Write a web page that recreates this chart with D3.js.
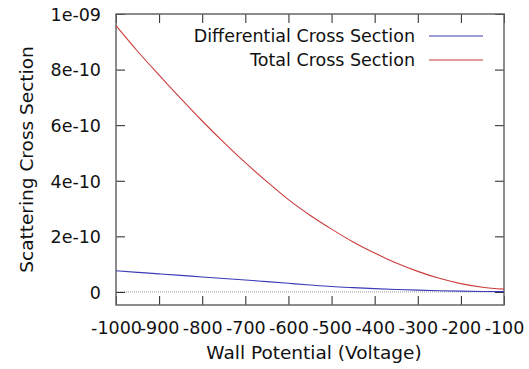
<!DOCTYPE html>
<html>
<head>
<meta charset="utf-8">
<script src="https://cdn.jsdelivr.net/npm/d3@7"></script>
<style>
  body { margin: 0; background: #fff; }
  svg text { font-family: "DejaVu Sans", Verdana, sans-serif; fill: #111; }
</style>
</head>
<body>
<svg id="plot" width="529" height="369"></svg>
<script>
// wall potential (V)
const voltages = [-1000, -950, -900, -850, -800, -750, -700, -650, -600, -550,
  -500, -450, -400, -350, -300, -250, -200, -150, -100];
// total cross section
const totalCS = [9.58e-10, 8.66e-10, 7.8e-10, 6.96e-10, 6.15e-10, 5.38e-10, 4.65e-10,
  3.97e-10, 3.32e-10, 2.76e-10, 2.26e-10, 1.8e-10, 1.4e-10, 1.04e-10, 0.74e-10,
  0.49e-10, 0.3e-10, 0.17e-10, 0.1e-10];
// differential cross section
const diffCS = [0.76e-10, 0.705e-10, 0.65e-10, 0.595e-10, 0.54e-10, 0.485e-10, 0.43e-10,
  0.37e-10, 0.31e-10, 0.25e-10, 0.195e-10, 0.155e-10, 0.12e-10, 0.09e-10, 0.065e-10,
  0.045e-10, 0.03e-10, 0.018e-10, 0.01e-10];

const xTicks = [-1000, -900, -800, -700, -600, -500, -400, -300, -200, -100];
const yTicks = [0, 2e-10, 4e-10, 6e-10, 8e-10, 1e-9];
const yTickLabels = ['0', '2e-10', '4e-10', '6e-10', '8e-10', '1e-09'];
const seriesNames = ['Differential Cross Section', 'Total Cross Section'];
const seriesColors = ['#3a3ab8', '#cc3b3b'];

const margin = { top: 14, right: 25, bottom: 64, left: 116 };
const width = 529 - margin.left - margin.right;
const height = 369 - margin.top - margin.bottom;

const svg = d3.select('#plot');
const g = svg.append('g').attr('transform', `translate(${margin.left},${margin.top})`);

const x = d3.scaleLinear().domain([-1000, -100]).range([0, width]);
const y = d3.scaleLinear().domain([-0.47e-10, 1e-9]).range([height, 0]);

// zero axis (dotted)
g.append('line')
  .attr('x1', 0).attr('x2', width)
  .attr('y1', y(0)).attr('y2', y(0))
  .attr('stroke', '#999')
  .attr('stroke-dasharray', '1,1');

const tickLen = 9;

// left axis with labels
const yAxis = g.append('g')
  .call(d3.axisLeft(y).tickValues(yTicks).tickSize(-tickLen).tickPadding(15)
    .tickFormat((d, i) => yTickLabels[i]));
// right mirror ticks
const yAxisR = g.append('g').attr('transform', `translate(${width},0)`)
  .call(d3.axisRight(y).tickValues(yTicks).tickSize(-tickLen).tickFormat(''));
// bottom axis with labels
const xAxis = g.append('g').attr('transform', `translate(0,${height})`)
  .call(d3.axisBottom(x).tickValues(xTicks).tickSize(-tickLen).tickPadding(16)
    .tickFormat(d => d));
// top mirror ticks
const xAxisT = g.append('g')
  .call(d3.axisTop(x).tickValues(xTicks).tickSize(-tickLen).tickFormat(''));

[yAxis, yAxisR, xAxis, xAxisT].forEach(a => {
  a.select('.domain').remove();
  a.selectAll('.tick line').attr('stroke', '#222').attr('stroke-width', 1);
  a.selectAll('text').style('font-size', '17.5px').attr('fill', '#111');
});
yAxis.selectAll('text').attr('dy', '0.36em');
xAxis.selectAll('text').attr('dy', '0.72em');

// frame
g.append('rect')
  .attr('width', width).attr('height', height)
  .attr('fill', 'none')
  .attr('stroke', '#666')
  .attr('stroke-width', 1.5);

// lines
const line = vals => d3.line()
  .x((d, i) => x(voltages[i]))
  .y(d => y(d))
  .curve(d3.curveMonotoneX)(vals);

[diffCS, totalCS].forEach((vals, i) => {
  g.append('path')
    .attr('d', line(vals))
    .attr('fill', 'none')
    .attr('stroke', seriesColors[i])
    .attr('stroke-width', 1.1);
});

// legend
seriesNames.forEach((name, i) => {
  const ly = 22 + i * 24;
  g.append('text')
    .attr('x', 299).attr('y', ly)
    .attr('dy', '0.36em')
    .attr('text-anchor', 'end')
    .style('font-size', '17.5px')
    .text(name);
  g.append('line')
    .attr('x1', 313).attr('x2', 367)
    .attr('y1', ly).attr('y2', ly)
    .attr('stroke', seriesColors[i])
    .attr('stroke-width', 1.1);
});

// axis titles
svg.append('text')
  .attr('x', margin.left + width / 2 + 4)
  .attr('y', 352)
  .attr('dy', '0.36em')
  .attr('text-anchor', 'middle')
  .style('font-size', '18.5px')
  .text('Wall Potential (Voltage)');

svg.append('text')
  .attr('transform', `translate(26,${margin.top + height / 2}) rotate(-90)`)
  .attr('dy', '0.36em')
  .attr('text-anchor', 'middle')
  .style('font-size', '18.5px')
  .text('Scattering Cross Section');
</script>
</body>
</html>
